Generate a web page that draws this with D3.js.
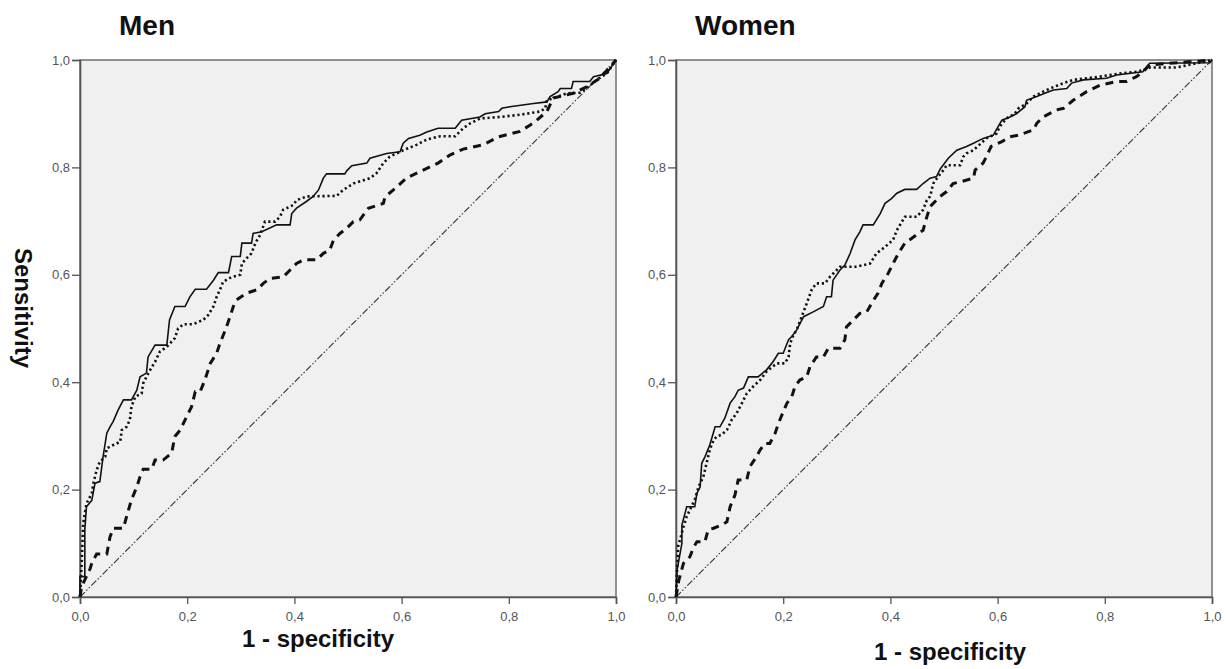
<!DOCTYPE html>
<html><head><meta charset="utf-8">
<script src="https://cdn.jsdelivr.net/npm/d3@7"></script>
<style>
html,body{margin:0;padding:0;background:#fff;}
svg text{font-family:"Liberation Sans",Arial,sans-serif;}
</style></head>
<body>
<svg id="chart" width="1228" height="669"></svg>
<script>
const panelTitles = ["Men", "Women"];
const tickValues = [0, 0.2, 0.4, 0.6, 0.8, 1.0];
const tickLabels = ["0,0", "0,2", "0,4", "0,6", "0,8", "1,0"];
const xAxisLabel = "1 - specificity";
const yAxisLabel = "Sensitivity";
const reference = [[0,0],[1,1]];

const menSolid = [[0,0],[0,0.038],[0.009,0.038],[0.009,0.125],[0.012,0.168],[0.022,0.18],[0.028,0.212],[0.037,0.215],[0.043,0.261],[0.05,0.305],[0.056,0.317],[0.062,0.327],[0.071,0.348],[0.081,0.367],[0.096,0.367],[0.106,0.385],[0.112,0.41],[0.124,0.417],[0.127,0.447],[0.14,0.469],[0.162,0.469],[0.167,0.516],[0.177,0.541],[0.196,0.541],[0.205,0.559],[0.215,0.573],[0.236,0.573],[0.249,0.59],[0.258,0.604],[0.277,0.604],[0.283,0.634],[0.299,0.634],[0.302,0.659],[0.32,0.659],[0.323,0.677],[0.339,0.68],[0.367,0.693],[0.392,0.693],[0.395,0.714],[0.404,0.724],[0.423,0.737],[0.435,0.746],[0.445,0.758],[0.454,0.78],[0.46,0.788],[0.494,0.788],[0.498,0.794],[0.507,0.803],[0.535,0.808],[0.541,0.817],[0.572,0.826],[0.597,0.829],[0.603,0.845],[0.613,0.854],[0.634,0.86],[0.647,0.866],[0.668,0.873],[0.7,0.873],[0.712,0.888],[0.746,0.894],[0.756,0.9],[0.781,0.904],[0.787,0.91],[0.802,0.913],[0.846,0.919],[0.871,0.922],[0.877,0.932],[0.892,0.941],[0.896,0.947],[0.917,0.947],[0.92,0.96],[0.951,0.96],[0.958,0.969],[0.983,0.975],[1,1]];
const menDotted = [[0,0],[0.003,0.06],[0.006,0.137],[0.012,0.174],[0.022,0.193],[0.025,0.212],[0.031,0.236],[0.037,0.252],[0.047,0.261],[0.05,0.277],[0.062,0.283],[0.075,0.289],[0.078,0.311],[0.087,0.317],[0.093,0.33],[0.096,0.354],[0.103,0.373],[0.115,0.379],[0.118,0.398],[0.124,0.41],[0.131,0.423],[0.14,0.438],[0.149,0.457],[0.162,0.466],[0.177,0.482],[0.183,0.5],[0.193,0.508],[0.211,0.508],[0.23,0.516],[0.239,0.525],[0.249,0.541],[0.255,0.559],[0.261,0.572],[0.267,0.587],[0.283,0.596],[0.299,0.6],[0.302,0.621],[0.311,0.631],[0.32,0.64],[0.327,0.659],[0.336,0.674],[0.345,0.699],[0.364,0.699],[0.373,0.708],[0.379,0.721],[0.398,0.73],[0.404,0.739],[0.423,0.746],[0.479,0.747],[0.491,0.758],[0.51,0.77],[0.541,0.78],[0.553,0.789],[0.566,0.808],[0.578,0.82],[0.603,0.832],[0.628,0.842],[0.647,0.852],[0.672,0.858],[0.7,0.858],[0.715,0.873],[0.728,0.882],[0.746,0.891],[0.784,0.894],[0.821,0.898],[0.858,0.904],[0.868,0.91],[0.871,0.925],[0.883,0.929],[0.908,0.938],[0.933,0.939],[0.945,0.947],[0.964,0.963],[0.983,0.975],[1,1]];
const menDashed = [[0,0],[0.003,0.019],[0.019,0.053],[0.022,0.063],[0.031,0.08],[0.05,0.08],[0.056,0.112],[0.062,0.128],[0.081,0.128],[0.087,0.15],[0.096,0.181],[0.106,0.205],[0.112,0.224],[0.118,0.238],[0.134,0.238],[0.14,0.255],[0.155,0.255],[0.171,0.268],[0.177,0.299],[0.187,0.311],[0.199,0.336],[0.208,0.354],[0.215,0.382],[0.224,0.382],[0.233,0.404],[0.243,0.435],[0.255,0.454],[0.261,0.472],[0.271,0.497],[0.28,0.522],[0.286,0.541],[0.292,0.553],[0.311,0.566],[0.33,0.572],[0.342,0.584],[0.354,0.593],[0.379,0.596],[0.392,0.609],[0.404,0.621],[0.417,0.628],[0.442,0.628],[0.454,0.64],[0.466,0.646],[0.473,0.665],[0.485,0.677],[0.498,0.687],[0.51,0.699],[0.522,0.702],[0.538,0.724],[0.566,0.733],[0.569,0.745],[0.588,0.761],[0.609,0.78],[0.634,0.792],[0.668,0.808],[0.69,0.823],[0.715,0.834],[0.752,0.842],[0.781,0.857],[0.821,0.867],[0.84,0.879],[0.849,0.885],[0.871,0.904],[0.883,0.929],[0.92,0.938],[0.945,0.95],[0.97,0.966],[1,1]];

const womenSolid = [[0,0],[0.002,0.05],[0.011,0.1],[0.011,0.134],[0.02,0.168],[0.035,0.168],[0.039,0.193],[0.045,0.205],[0.048,0.249],[0.054,0.261],[0.063,0.283],[0.073,0.317],[0.082,0.317],[0.091,0.333],[0.101,0.361],[0.11,0.373],[0.116,0.385],[0.126,0.389],[0.135,0.41],[0.153,0.41],[0.169,0.423],[0.181,0.438],[0.191,0.454],[0.2,0.454],[0.21,0.479],[0.216,0.485],[0.225,0.497],[0.238,0.522],[0.256,0.531],[0.275,0.541],[0.281,0.559],[0.29,0.559],[0.293,0.59],[0.306,0.609],[0.315,0.618],[0.325,0.64],[0.334,0.665],[0.343,0.68],[0.349,0.693],[0.368,0.693],[0.381,0.714],[0.39,0.733],[0.402,0.742],[0.412,0.752],[0.427,0.759],[0.449,0.759],[0.461,0.77],[0.474,0.78],[0.486,0.783],[0.493,0.797],[0.508,0.817],[0.524,0.832],[0.542,0.839],[0.555,0.845],[0.573,0.854],[0.592,0.86],[0.601,0.876],[0.608,0.888],[0.623,0.894],[0.635,0.9],[0.651,0.913],[0.654,0.925],[0.673,0.932],[0.688,0.938],[0.704,0.944],[0.729,0.947],[0.738,0.957],[0.76,0.963],[0.803,0.966],[0.822,0.972],[0.871,0.978],[0.881,0.991],[0.884,0.994],[0.996,0.995],[1,1]];
const womenDotted = [[0,0],[0.002,0.05],[0.004,0.094],[0.014,0.131],[0.02,0.15],[0.035,0.181],[0.042,0.205],[0.051,0.224],[0.057,0.249],[0.063,0.274],[0.07,0.292],[0.076,0.299],[0.085,0.302],[0.095,0.311],[0.104,0.33],[0.113,0.342],[0.123,0.361],[0.132,0.379],[0.144,0.392],[0.157,0.404],[0.169,0.42],[0.188,0.435],[0.203,0.435],[0.21,0.447],[0.213,0.472],[0.219,0.488],[0.225,0.497],[0.244,0.547],[0.253,0.572],[0.262,0.584],[0.278,0.584],[0.287,0.596],[0.3,0.609],[0.306,0.615],[0.337,0.615],[0.362,0.621],[0.374,0.64],[0.39,0.652],[0.405,0.665],[0.412,0.683],[0.427,0.708],[0.449,0.708],[0.461,0.721],[0.468,0.739],[0.474,0.746],[0.48,0.77],[0.489,0.783],[0.499,0.795],[0.505,0.804],[0.53,0.804],[0.536,0.82],[0.542,0.826],[0.555,0.832],[0.579,0.854],[0.598,0.863],[0.604,0.876],[0.616,0.891],[0.632,0.9],[0.639,0.91],[0.654,0.919],[0.667,0.932],[0.685,0.941],[0.698,0.947],[0.723,0.957],[0.741,0.963],[0.766,0.966],[0.791,0.969],[0.828,0.975],[0.859,0.978],[0.871,0.981],[0.884,0.986],[0.934,0.986],[1,1]];
const womenDashed = [[0,0],[0.005,0.03],[0.014,0.063],[0.026,0.075],[0.032,0.091],[0.039,0.103],[0.054,0.103],[0.06,0.125],[0.07,0.128],[0.085,0.134],[0.095,0.14],[0.101,0.168],[0.11,0.19],[0.116,0.218],[0.132,0.218],[0.138,0.243],[0.15,0.261],[0.157,0.274],[0.166,0.286],[0.175,0.286],[0.185,0.305],[0.191,0.323],[0.2,0.345],[0.207,0.361],[0.216,0.373],[0.222,0.392],[0.231,0.404],[0.244,0.41],[0.25,0.429],[0.262,0.447],[0.275,0.447],[0.284,0.463],[0.306,0.463],[0.315,0.479],[0.318,0.503],[0.331,0.516],[0.343,0.528],[0.356,0.531],[0.365,0.547],[0.377,0.566],[0.384,0.584],[0.396,0.603],[0.405,0.621],[0.415,0.64],[0.427,0.659],[0.44,0.668],[0.452,0.677],[0.461,0.683],[0.468,0.708],[0.474,0.727],[0.48,0.733],[0.493,0.746],[0.505,0.755],[0.517,0.77],[0.53,0.773],[0.555,0.78],[0.558,0.795],[0.573,0.808],[0.579,0.82],[0.588,0.839],[0.608,0.848],[0.623,0.857],[0.639,0.86],[0.667,0.87],[0.673,0.882],[0.685,0.894],[0.71,0.907],[0.723,0.91],[0.741,0.925],[0.766,0.941],[0.791,0.953],[0.822,0.96],[0.84,0.96],[0.859,0.969],[0.871,0.978],[0.884,0.991],[1,1]];

const panels = [
  {title: panelTitles[0], left: 80, right: 616, titleX: 119, xlabX: 318, xlabY: 647, series: [menSolid, menDotted, menDashed]},
  {title: panelTitles[1], left: 676, right: 1212, titleX: 695, xlabX: 950, xlabY: 660, series: [womenSolid, womenDotted, womenDashed]}
];
const plotTop = 60, plotBottom = 597;
const styles = [
  {w: 1.6, dash: null},
  {w: 2.6, dash: "2.2,2.8"},
  {w: 3, dash: "8,6"}
];

const svg = d3.select("#chart");

panels.forEach(p => {
  const x = d3.scaleLinear().domain([0,1]).range([p.left, p.right]);
  const y = d3.scaleLinear().domain([0,1]).range([plotBottom, plotTop]);
  const g = svg.append("g");

  g.append("rect").attr("x", x(0)).attr("y", y(1))
    .attr("width", x(1)-x(0)).attr("height", y(0)-y(1))
    .attr("fill", "#f0f0f0").attr("stroke", "#777").attr("stroke-width", 1.6);

  const fmt = (d) => tickLabels[tickValues.indexOf(d)];
  const xa = g.append("g").attr("transform", `translate(0,${plotBottom})`)
    .call(d3.axisBottom(x).tickValues(tickValues).tickFormat(fmt).tickSize(7).tickPadding(8));
  const ya = g.append("g").attr("transform", `translate(${p.left},0)`)
    .call(d3.axisLeft(y).tickValues(tickValues).tickFormat(fmt).tickSize(8).tickPadding(2));
  [xa, ya].forEach(a => {
    a.select(".domain").attr("stroke", "#555").attr("stroke-width", 1.6);
    a.selectAll(".tick line").attr("stroke", "#555").attr("stroke-width", 1.3);
    a.selectAll(".tick text").attr("fill", "#555").style("font-size", "13px");
  });

  const line = d3.line().x(d => x(d[0])).y(d => y(d[1]));

  g.append("path").datum(reference).attr("d", line)
    .attr("fill", "none").attr("stroke", "#333").attr("stroke-width", 1.1)
    .attr("stroke-dasharray", "7,2,1.5,2,1.5,2");

  p.series.forEach((s, i) => {
    const st = styles[i];
    const path = g.append("path").datum(s).attr("d", line)
      .attr("fill", "none").attr("stroke", "#111").attr("stroke-width", st.w)
      .attr("stroke-linejoin", "miter");
    if (st.dash) path.attr("stroke-dasharray", st.dash);
  });

  svg.append("text").attr("x", p.titleX).attr("y", 35)
    .attr("font-size", 28).attr("font-weight", "bold").attr("fill", "#111").text(p.title);
  svg.append("text").attr("x", p.xlabX).attr("y", p.xlabY).attr("text-anchor", "middle")
    .attr("font-size", 24).attr("font-weight", "bold").attr("fill", "#111").text(xAxisLabel);
});

svg.append("text").attr("transform", "translate(15,308) rotate(90)")
  .attr("text-anchor", "middle").attr("font-size", 24).attr("font-weight", "bold")
  .attr("fill", "#111").text(yAxisLabel);
</script>
</body></html>
